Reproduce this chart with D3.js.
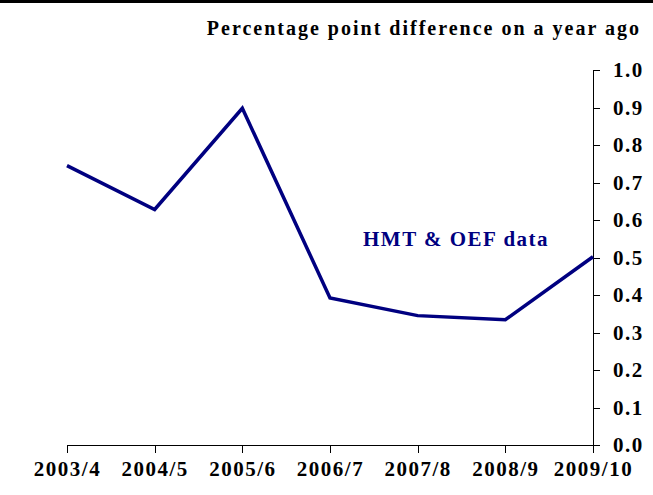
<!DOCTYPE html>
<meta charset="utf-8">
<style>
body {
  margin: 0;
  background: #fff;
}

text {
  font-family: "Liberation Serif", "Times New Roman", serif;
  font-weight: bold;
}

.axis text {
  font-size: 21px;
  letter-spacing: 1.5px;
  fill: #000;
}

.axis path,
.axis line {
  stroke: #000;
  stroke-width: 1px;
  shape-rendering: crispEdges;
}

.line {
  fill: none;
  stroke: #000080;
  stroke-width: 3.5px;
  stroke-linejoin: miter;
}
</style>
<body>
<script src="https://d3js.org/d3.v7.min.js"></script>
<script>

var width = 653,
    height = 495;

// financial years and the percentage point change on a year ago
var years = ["2003/4", "2004/5", "2005/6", "2006/7", "2007/8", "2008/9", "2009/10"];
var values = [0.745, 0.628, 0.898, 0.392, 0.345, 0.334, 0.502];
var yTicks = [0, 0.1, 0.2, 0.3, 0.4, 0.5, 0.6, 0.7, 0.8, 0.9, 1.0];

var x = d3.scalePoint()
    .domain(years)
    .range([67, 593]);

var y = d3.scaleLinear()
    .domain([0, 1])
    .range([445, 70]);

var svg = d3.select("body").append("svg")
    .attr("width", width)
    .attr("height", height);

// heavy rule along the top edge
svg.append("rect")
    .attr("x", 0)
    .attr("y", 0)
    .attr("width", width)
    .attr("height", 3)
    .attr("fill", "#000");

svg.append("text")
    .attr("x", 641)
    .attr("y", 35)
    .attr("text-anchor", "end")
    .style("font-size", "20px")
    .style("letter-spacing", "2px")
    .text("Percentage point difference on a year ago");

svg.append("g")
    .attr("class", "axis x")
    .attr("transform", "translate(0," + y(0) + ")")
    .call(d3.axisBottom(x).tickSize(8).tickSizeOuter(8).tickPadding(8));

svg.append("g")
    .attr("class", "axis y")
    .attr("transform", "translate(" + x(years[years.length - 1]) + ",0)")
    .call(d3.axisRight(y).tickValues(yTicks).tickFormat(d3.format(".1f"))
      .tickSize(7).tickSizeOuter(7).tickPadding(13));

var line = d3.line()
    .x(function(d, i) { return x(years[i]); })
    .y(function(d) { return y(d); });

svg.append("path")
    .datum(values)
    .attr("class", "line")
    .attr("d", line);

svg.append("text")
    .attr("x", 363)
    .attr("y", 246)
    .attr("fill", "#000080")
    .style("font-size", "21px")
    .style("letter-spacing", "1.5px")
    .text("HMT & OEF data");

</script>
</body>
